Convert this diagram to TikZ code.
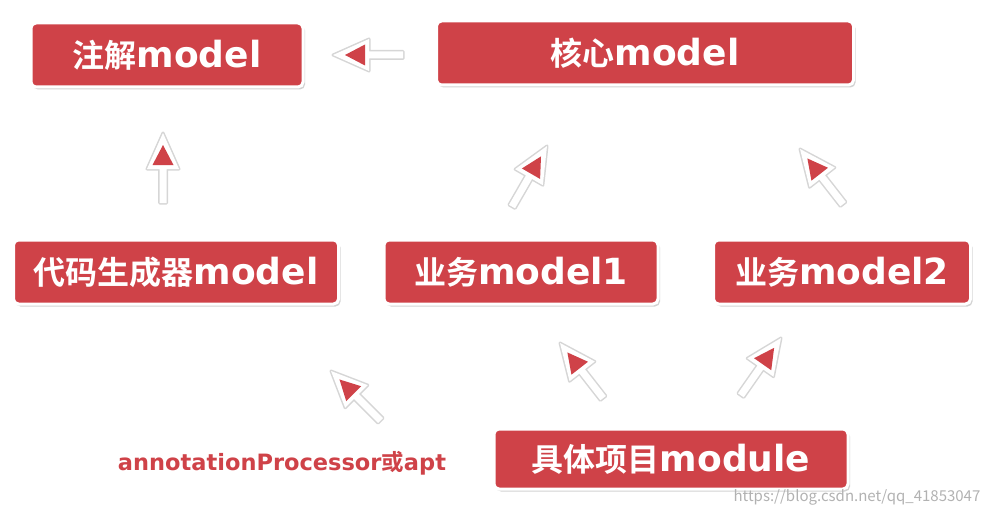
\documentclass[tikz,border=0pt]{standalone}
\usepackage{fontspec}
\newfontfamily\cjk{Noto Sans CJK SC}[BoldFont={Noto Sans CJK SC Bold}]
\newfontfamily\lat{DejaVu Sans}
\usetikzlibrary{positioning, shadows}
\definecolor{modred}{RGB}{207,66,72}
\newcommand{\mtxt}[2]{{\cjk\bfseries\fontsize{32}{36}\selectfont #1}{\lat\bfseries\fontsize{36}{40}\selectfont #2}}

\tikzset{
  pics/pil/.style = {code = {
      \draw[black!45, opacity=.35, line width=3pt, line join=round]
        (0,0) -- (-36,16) -- (-36,3.5) -- (-70,3.5) -- (-70,-3.5) -- (-36,-3.5) -- (-36,-16) -- cycle;
      \fill[white]
        (0,0) -- (-36,16) -- (-36,3.5) -- (-70,3.5) -- (-70,-3.5) -- (-36,-3.5) -- (-36,-16) -- cycle;
      \fill[modred] (-12,0) -- (-32,10.5) -- (-32,-10.5) -- cycle;
  }}
}

\begin{document}
\begin{tikzpicture}[
    x=1pt, y=-1pt,
    modul/.style = {rectangle, rounded corners=5pt, fill=modred, draw=white,
      line width=3pt, minimum height=64pt, inner sep=0pt, text=white,
      drop shadow={shadow xshift=2pt, shadow yshift=-2.5pt, opacity=.35}},
    font=\cjk
    ]

  \fill[white] (0,0) rectangle (990,516);
  \useasboundingbox (0,0) rectangle (990,516);

  \node[modul, minimum width=272pt] (zhujie) at (167,55) {\mtxt{注解}{model}} ;
  \node[modul, minimum width=417pt] (hexin) at (645,53) {\mtxt{核心}{model}} ;
  \node[modul, minimum width=325pt] (daima) at (176,272) {\mtxt{代码生成器}{model}} ;
  \node[modul, minimum width=274pt] (yewu1) at (521,272) {\mtxt{业务}{model1}} ;
  \node[modul, minimum width=257pt] (yewu2) at (842,272) {\mtxt{业务}{model2}} ;
  \node[modul, minimum width=354pt, minimum height=60pt] (juti) at (671,459) {\mtxt{具体项目}{module}} ;

  \node[text=modred, font=\lat\bfseries\fontsize{22.5}{26}\selectfont] (apt) at (282,463)
    {annotationProcessor{\cjk\bfseries 或}apt} ;
  \node[text=black!30, font=\cjk\fontsize{15}{18}\selectfont] (url) at (857,497) {https://blog.csdn.net/qq\_41853047} ;

  % pijlen
  \coordinate (p1) at (333,55) ;
  \coordinate (p2) at (163,133) ;
  \coordinate (p3) at (547,146) ;
  \coordinate (p4) at (800,149) ;
  \coordinate (p5) at (331,371) ;
  \coordinate (p6) at (560,343) ;
  \coordinate (p7) at (781,338) ;

  \pic[rotate=180] at (p1) {pil} ;
  \pic[rotate=90]  at (p2) {pil} ;
  \pic[rotate=60]  at (p3) {pil} ;
  \pic[rotate=128] at (p4) {pil} ;
  \pic[rotate=135] at (p5) {pil} ;
  \pic[rotate=128] at (p6) {pil} ;
  \pic[rotate=55]  at (p7) {pil} ;

\end{tikzpicture}
\end{document}
